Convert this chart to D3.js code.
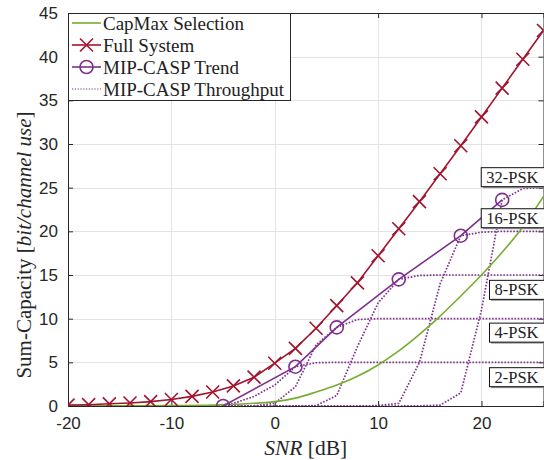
<!DOCTYPE html>
<html>
<head>
<meta charset="utf-8">
<script src="https://cdn.jsdelivr.net/npm/d3@7"></script>
<style>
  html, body { margin: 0; padding: 0; background: #ffffff; }
  svg { display: block; }
</style>
</head>
<body>
<svg id="chart" width="544" height="460"></svg>
<script>
// ---------------- data ----------------
const xTicks = [-20, -10, 0, 10, 20];
const yTicks = [0, 5, 10, 15, 20, 25, 30, 35, 40, 45];

const snrFull = [-20, -18, -16, -14, -12, -10, -8, -6, -4, -2, 0, 2, 4, 6, 8, 10, 12, 14, 16, 18, 20, 22, 24, 26];
const fullSystem = [0.1, 0.15, 0.25, 0.35, 0.5, 0.75, 1.1, 1.6, 2.3, 3.3, 4.9, 6.6, 8.9, 11.5, 14.1, 17.2, 20.3, 23.4, 26.6, 29.8, 33.1, 36.4, 39.7, 43.0];

const snrCap = [-20, -15, -10, -5, 0, 2, 4, 6, 8, 10, 12, 14, 16, 18, 20, 22, 24, 26];
const capMax = [0, 0.01, 0.05, 0.15, 0.5, 0.9, 1.6, 2.4, 3.4, 4.7, 6.3, 8.2, 10.3, 12.6, 15.0, 17.6, 20.5, 24.0];

const snrTrend = [-5, 2, 6, 12, 18, 22];
const trend = [0, 4.5, 9.0, 14.5, 19.5, 23.6];

const snrTp = [-20, -18, -16, -14, -12, -10, -8, -6, -4, -2, 0, 2, 4, 6, 8, 10, 12, 14, 16, 18, 20, 22, 24, 26];
const tp2psk  = [0, 0, 0, 0, 0, 0, 0, 0, 0.3, 1.1, 2.4, 4.5, 4.95, 5, 5, 5, 5, 5, 5, 5, 5, 5, 5, 5];
const tp4psk  = [0, 0, 0, 0, 0, 0, 0, 0, 0, 0.02, 0.3, 2.2, 7.0, 9.0, 9.9, 10, 10, 10, 10, 10, 10, 10, 10, 10];
const tp8psk  = [0, 0, 0, 0, 0, 0, 0, 0, 0, 0, 0, 0, 0.05, 1.2, 6.8, 11.8, 14.5, 14.95, 15, 15, 15, 15, 15, 15];
const tp16psk = [0, 0, 0, 0, 0, 0, 0, 0, 0, 0, 0, 0, 0, 0, 0, 0.05, 0.3, 5.0, 14.0, 19.5, 19.9, 20, 20, 20];
const tp32psk = [0, 0, 0, 0, 0, 0, 0, 0, 0, 0, 0, 0, 0, 0, 0, 0, 0, 0.02, 0.1, 1.5, 11.0, 23.6, 24.9, 25];

const pskLabels = ["2-PSK", "4-PSK", "8-PSK", "16-PSK", "32-PSK"];
const pskLabelY = [3.3, 8.4, 13.3, 21.5, 26.2];

const legendNames = ["CapMax Selection", "Full System", "MIP-CASP Trend", "MIP-CASP Throughput"];

// ---------------- layout ----------------
const W = 544, H = 460;
const pL = 68, pR = 543.5, pT = 13, pB = 406;
const colRed = "#A2142F", colPurple = "#7E2F8E", colGreen = "#77AC30";
const serif = "'Liberation Serif', 'Times New Roman', serif";
const sans = "'Liberation Sans', Arial, Helvetica, sans-serif";

const svg = d3.select("#chart");
const x = d3.scaleLinear().domain([-20, 26]).range([pL, pR]);
const y = d3.scaleLinear().domain([0, 45]).range([pB, pT]);

svg.append("rect").attr("x", 0).attr("y", 0).attr("width", W).attr("height", H).attr("fill", "#fff");

svg.append("defs").append("clipPath").attr("id", "plotclip")
  .append("rect").attr("x", pL).attr("y", pT).attr("width", pR - pL).attr("height", pB - pT);

// grid
const grid = svg.append("g").attr("stroke", "#e3e3e3").attr("stroke-width", 1);
grid.selectAll("line.gx").data(xTicks).join("line")
  .attr("x1", d => Math.round(x(d)) + 0.5).attr("x2", d => Math.round(x(d)) + 0.5)
  .attr("y1", pT).attr("y2", pB);
grid.selectAll("line.gy").data(yTicks).join("line")
  .attr("y1", d => Math.round(y(d)) + 0.5).attr("y2", d => Math.round(y(d)) + 0.5)
  .attr("x1", pL).attr("x2", pR);

// axes
const fmt = d => String(d);
const axB = svg.append("g").attr("transform", `translate(0,${pB})`)
  .call(d3.axisBottom(x).tickValues(xTicks).tickSize(-5).tickPadding(11).tickFormat(fmt));
const axT = svg.append("g").attr("transform", `translate(0,${pT})`)
  .call(d3.axisTop(x).tickValues(xTicks).tickSize(-5).tickFormat(""));
const axL = svg.append("g").attr("transform", `translate(${pL},0)`)
  .call(d3.axisLeft(y).tickValues(yTicks).tickSize(-5).tickPadding(10).tickFormat(fmt));
const axR = svg.append("g").attr("transform", `translate(${pR},0)`)
  .call(d3.axisRight(y).tickValues(yTicks).tickSize(-5).tickFormat(""));
[axB, axT, axL, axR].forEach(a => {
  a.select(".domain").attr("stroke", "#262626").attr("stroke-width", 1);
  a.selectAll(".tick line").attr("stroke", "#262626");
  a.selectAll("text").attr("font-family", sans).attr("font-size", 17).attr("fill", "#262626");
});

// series
const plot = svg.append("g").attr("clip-path", "url(#plotclip)");
const line = d3.line().x(d => x(d[0])).y(d => y(d[1]));

const tpSeries = [tp2psk, tp4psk, tp8psk, tp16psk, tp32psk];
tpSeries.forEach(s => {
  plot.append("path").datum(snrTp.map((v, i) => [v, s[i]]))
    .attr("d", line).attr("fill", "none").attr("stroke", colPurple)
    .attr("stroke-width", 1.7).attr("stroke-dasharray", "1.6,1.6");
});

plot.append("path").datum(snrCap.map((v, i) => [v, capMax[i]]))
  .attr("d", d3.line().x(d => x(d[0])).y(d => y(d[1])).curve(d3.curveMonotoneX))
  .attr("fill", "none").attr("stroke", colGreen).attr("stroke-width", 1.6);

plot.append("path").datum(snrFull.map((v, i) => [v, fullSystem[i]]))
  .attr("d", line).attr("fill", "none").attr("stroke", colRed).attr("stroke-width", 1.6);
const cross = 6.5;
plot.append("g").selectAll("path").data(snrFull.map((v, i) => [v, fullSystem[i]])).join("path")
  .attr("d", d => `M${x(d[0]) - cross},${y(d[1]) - cross}L${x(d[0]) + cross},${y(d[1]) + cross}M${x(d[0]) - cross},${y(d[1]) + cross}L${x(d[0]) + cross},${y(d[1]) - cross}`)
  .attr("stroke", colRed).attr("stroke-width", 1.6).attr("fill", "none");

plot.append("path").datum(snrTrend.map((v, i) => [v, trend[i]]))
  .attr("d", line).attr("fill", "none").attr("stroke", colPurple).attr("stroke-width", 1.6);
plot.append("g").selectAll("circle").data(snrTrend.map((v, i) => [v, trend[i]])).join("circle")
  .attr("cx", d => x(d[0])).attr("cy", d => y(d[1])).attr("r", 6.5)
  .attr("fill", "none").attr("stroke", colPurple).attr("stroke-width", 1.6);

// PSK labels
const lab = svg.append("g");
pskLabels.forEach((t, i) => {
  const g = lab.append("g");
  const txt = g.append("text").attr("x", pR - 5).attr("y", y(pskLabelY[i]))
    .attr("text-anchor", "end").attr("dominant-baseline", "central")
    .attr("font-family", serif).attr("font-size", 16.5).attr("fill", "#222").text(t);
  const bb = txt.node().getBBox();
  const bx = bb.x - 5, bw = pR + 2 - bx, by = y(pskLabelY[i]) - 9.5, bh = 19;
  g.insert("rect", "text").attr("x", bx + 1.5).attr("y", by + 1.5).attr("width", bw).attr("height", bh).attr("fill", "#999");
  g.insert("rect", "text").attr("x", bx).attr("y", by).attr("width", bw).attr("height", bh)
    .attr("fill", "#fff").attr("stroke", "#111").attr("stroke-width", 1);
});

// legend
const leg = svg.append("g");
leg.append("rect").attr("x", pL + 0.5).attr("y", pT + 0.5).attr("width", 222).attr("height", 87)
  .attr("fill", "#fff").attr("stroke", "#262626").attr("stroke-width", 1);
const legY = [23, 45, 67, 89];
const lx1 = pL + 4, lx2 = pL + 33;
legendNames.forEach((n, i) => {
  const yy = legY[i];
  const g = leg.append("g");
  if (i === 0) {
    g.append("line").attr("x1", lx1).attr("x2", lx2).attr("y1", yy).attr("y2", yy).attr("stroke", colGreen).attr("stroke-width", 1.6);
  } else if (i === 1) {
    g.append("line").attr("x1", lx1).attr("x2", lx2).attr("y1", yy).attr("y2", yy).attr("stroke", colRed).attr("stroke-width", 1.6);
    const cx = (lx1 + lx2) / 2;
    g.append("path").attr("d", `M${cx - cross},${yy - cross}L${cx + cross},${yy + cross}M${cx - cross},${yy + cross}L${cx + cross},${yy - cross}`)
      .attr("stroke", colRed).attr("stroke-width", 1.6);
  } else if (i === 2) {
    g.append("line").attr("x1", lx1).attr("x2", lx2).attr("y1", yy).attr("y2", yy).attr("stroke", colPurple).attr("stroke-width", 1.6);
    g.append("circle").attr("cx", (lx1 + lx2) / 2).attr("cy", yy).attr("r", 6.5).attr("fill", "none").attr("stroke", colPurple).attr("stroke-width", 1.6);
  } else {
    g.append("line").attr("x1", lx1).attr("x2", lx2).attr("y1", yy).attr("y2", yy).attr("stroke", colPurple)
      .attr("stroke-width", 1.2).attr("stroke-dasharray", "1.2,1.6");
  }
  g.append("text").attr("x", lx2 + 2).attr("y", yy).attr("dominant-baseline", "central")
    .attr("font-family", serif).attr("font-size", 19).attr("fill", "#222").text(n);
});

// axis titles
const xl = svg.append("text").attr("x", (pL + pR) / 2).attr("y", 455).attr("text-anchor", "middle")
  .attr("font-family", serif).attr("font-size", 21.5).attr("fill", "#262626");
xl.append("tspan").attr("font-style", "italic").text("SNR");
xl.append("tspan").text(" [dB]");

const yl = svg.append("text").attr("transform", `translate(31,245) rotate(-90)`)
  .attr("text-anchor", "middle").attr("font-family", serif).attr("font-size", 21).attr("fill", "#262626");
yl.append("tspan").text("Sum-Capacity ");
yl.append("tspan").text("[");
yl.append("tspan").attr("font-style", "italic").text("bit/channel use");
yl.append("tspan").text("]");
</script>
</body>
</html>
